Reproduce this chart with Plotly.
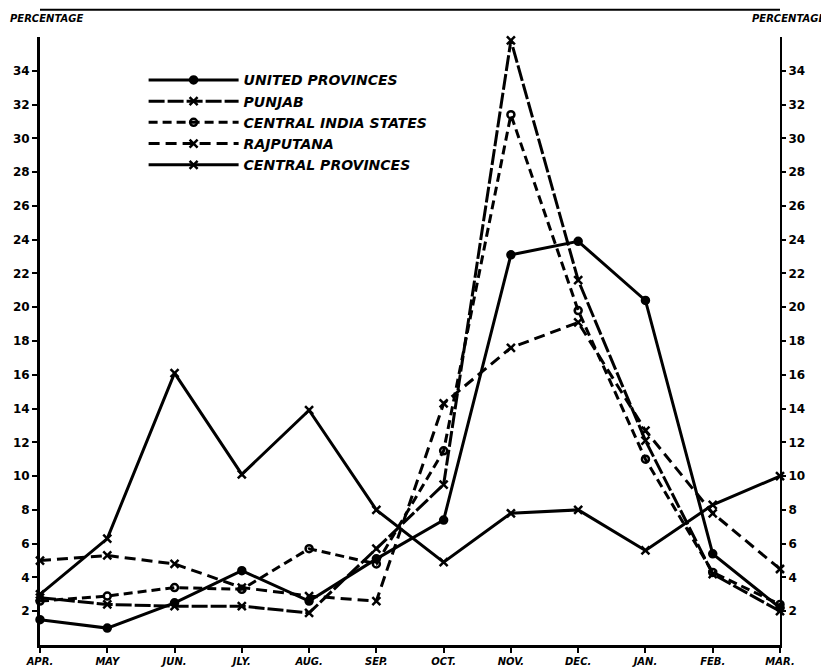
import plotly.graph_objects as go

months = ["APR.", "MAY", "JUN.", "JLY.", "AUG.", "SEP.", "OCT.", "NOV.", "DEC.", "JAN.", "FEB.", "MAR."]

united_provinces = [1.5, 1.0, 2.5, 4.4, 2.6, 5.1, 7.4, 23.1, 23.9, 20.4, 5.4, 2.2]
punjab = [2.8, 2.4, 2.3, 2.3, 1.9, 5.7, 9.5, 35.8, 21.6, 12.1, 4.2, 2.0]
central_india_states = [2.6, 2.9, 3.4, 3.3, 5.7, 4.8, 11.5, 31.4, 19.8, 11.0, 4.3, 2.4]
rajputana = [5.0, 5.3, 4.8, 3.4, 2.9, 2.6, 14.3, 17.6, 19.1, 12.7, 7.8, 4.5]
central_provinces = [3.0, 6.3, 16.1, 10.1, 13.9, 8.0, 4.9, 7.8, 8.0, 5.6, 8.3, 10.0]

y_ticks = list(range(2, 35, 2))

FONT = "DejaVu Sans"

series = [
    ("UNITED PROVINCES", united_provinces, "solid", "circle", 7),
    ("PUNJAB", punjab, "16px,3px", "x-thin-open", 8),
    ("CENTRAL INDIA STATES", central_india_states, "9px,5px", "circle-open", 7),
    ("RAJPUTANA", rajputana, "11px,6px", "x-thin-open", 8),
    ("CENTRAL PROVINCES", central_provinces, "solid", "x-thin-open", 8),
]

fig = go.Figure()
for name, vals, dash, sym, size in series:
    fig.add_trace(go.Scatter(
        x=months, y=vals, name=name, mode="lines+markers",
        line=dict(color="black", width=3, dash=dash),
        marker=dict(symbol=sym, size=size, color="black",
                    line=dict(color="black", width=2.5)),
        cliponaxis=False,
    ))

# invisible trace to activate right axis
fig.add_trace(go.Scatter(x=months, y=central_provinces, yaxis="y2",
                         mode="lines", line=dict(width=0), opacity=0,
                         showlegend=False, hoverinfo="skip"))

tickfont = dict(family=FONT, size=12, color="black", weight="bold")
labfont = dict(family=FONT, size=10, color="black", weight="bold", style="italic")

# page body has an 8px margin, so the figure is sized to fit the 829x672 window
fig.update_layout(
    width=821, height=664,
    margin=dict(l=32, r=49, t=29, b=27, autoexpand=False),
    paper_bgcolor="white", plot_bgcolor="white",
    showlegend=True,
    legend=dict(
        x=0.14, y=0.955, xanchor="left", yanchor="top",
        bgcolor="rgba(0,0,0,0)", borderwidth=0,
        font=dict(family=FONT, size=14, color="black", weight="bold", style="italic"),
        itemwidth=90, tracegroupgap=0, itemsizing="trace",
    ),
    xaxis=dict(
        type="category", range=[0, 11], showgrid=False, zeroline=False,
        showline=True, linecolor="black", linewidth=3,
        ticks="outside", ticklen=5, tickwidth=2, tickcolor="black",
        tickfont=dict(family=FONT, size=10, color="black", weight="bold", style="italic"),
        automargin=False,
    ),
    yaxis=dict(
        range=[0, 36], tickvals=y_ticks, showgrid=False, zeroline=False,
        showline=True, linecolor="black", linewidth=3,
        ticks="outside", ticklen=5, tickwidth=2, tickcolor="black",
        tickfont=tickfont, automargin=False,
    ),
    yaxis2=dict(
        range=[0, 36], tickvals=y_ticks, overlaying="y", side="right",
        showgrid=False, zeroline=False,
        showline=True, linecolor="black", linewidth=2,
        ticks="outside", ticklen=4, tickwidth=2, tickcolor="black",
        tickfont=tickfont, automargin=False,
    ),
    annotations=[
        dict(text="PERCENTAGE", xref="paper", yref="paper", x=-0.043, y=1.031,
             xanchor="left", yanchor="middle", showarrow=False, font=labfont),
        dict(text="PERCENTAGE", xref="paper", yref="paper", x=1.063, y=1.031,
             xanchor="right", yanchor="middle", showarrow=False, font=labfont),
    ],
    shapes=[
        dict(type="line", xref="paper", yref="paper", x0=0, x1=1, y0=1.045, y1=1.045,
             line=dict(color="black", width=2)),
    ],
)

fig.write_html("out.html")
